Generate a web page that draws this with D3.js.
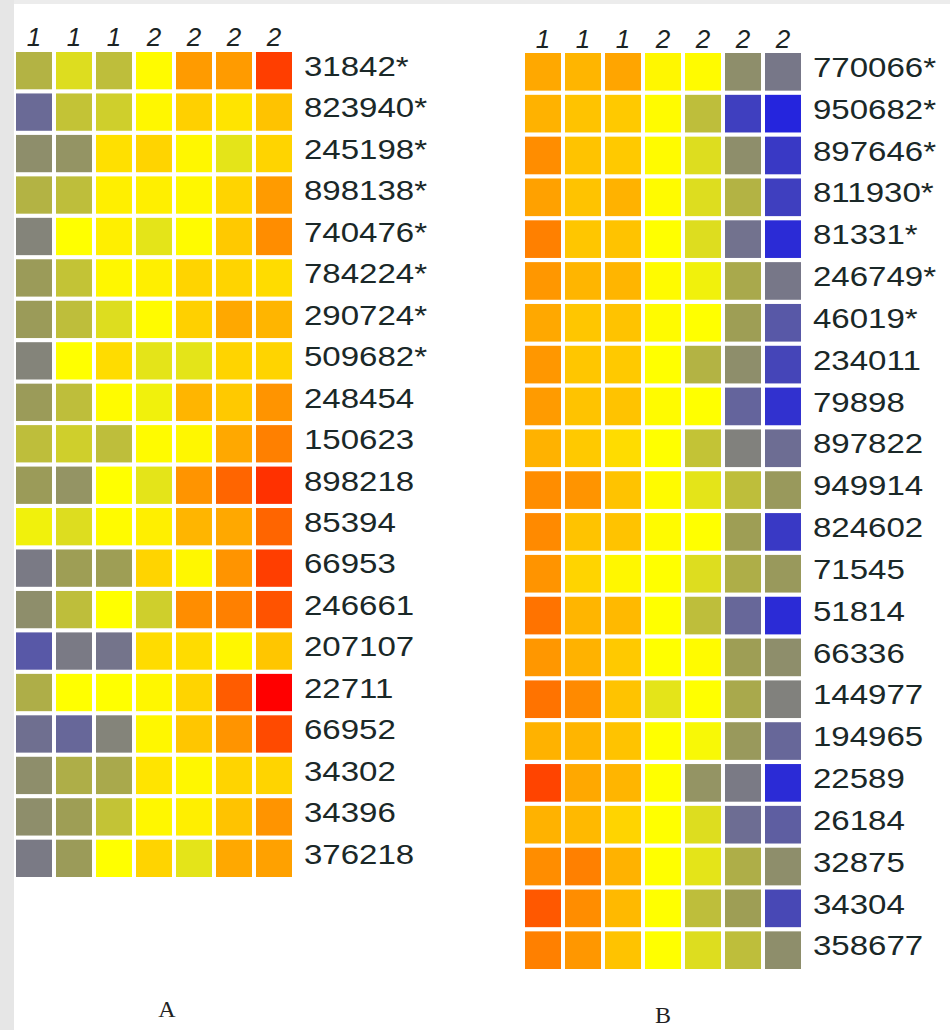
<!doctype html>
<html lang="en">
    <head>
        <meta charset="utf-8">
        <title>Heatmaps A and B</title>
        <script type="text/javascript" src="https://cdn.jsdelivr.net/npm/d3@7"></script>
        <style>
            body { margin: 0; background: #ffffff; }
            svg { display: block; }
        </style>
    </head>
    <body>
        <script type="text/javascript">

            var svgW = 950;
            var svgH = 1030;

            // group labels over the columns (same in both panels)
            var colLabels = ["1", "1", "1", "2", "2", "2", "2"];

            // panel A
            var rowsA = ["31842*", "823940*", "245198*", "898138*", "740476*", "784224*", "290724*",
                         "509682*", "248454", "150623", "898218", "85394", "66953", "246661",
                         "207107", "22711", "66952", "34302", "34396", "376218"];
            var valuesA = [
                [-0.6, -0.25, -0.5, 0.05, 1.4, 1.4, 2.5],
                [-1.8, -0.45, -0.35, 0.1, 0.6, 0.35, 0.8],
                [-1.1, -1.0, 0.4, 0.55, 0.1, -0.2, 0.55],
                [-0.6, -0.5, 0.2, 0.2, 0.1, 0.55, 1.4],
                [-1.3, 0, 0.2, -0.2, 0.05, 0.7, 1.6],
                [-0.85, -0.45, 0.1, 0.2, 0.55, 0.55, 0.45],
                [-0.85, -0.5, -0.25, 0.05, 0.6, 1.2, 1.0],
                [-1.3, 0, 0.45, -0.2, -0.2, 0.55, 0.55],
                [-0.85, -0.5, 0.05, -0.1, 1.0, 0.7, 1.5],
                [-0.5, -0.35, -0.5, 0.05, 0.1, 1.2, 1.8],
                [-0.85, -1.0, 0, -0.2, 1.5, 2.1, 2.6],
                [-0.1, -0.25, 0.05, 0.2, 1.0, 1.2, 2.1],
                [-1.5, -0.8, -0.8, 0.55, 0.1, 1.5, 2.5],
                [-1.1, -0.5, 0, -0.35, 1.6, 1.8, 2.3],
                [-2.1, -1.5, -1.6, 0.45, 0.45, 0.1, 0.75],
                [-0.65, 0, 0, 0.1, 0.55, 2.2, 3.0],
                [-1.7, -1.85, -1.3, 0.1, 0.75, 1.5, 2.4],
                [-1.1, -0.65, -0.7, 0.35, 0.1, 0.55, 0.55],
                [-1.1, -0.8, -0.45, 0.1, 0.2, 0.8, 1.5],
                [-1.5, -0.85, 0, 0.55, -0.2, 1.2, 1.3]
            ];

            // panel B
            var rowsB = ["770066*", "950682*", "897646*", "811930*", "81331*", "246749*", "46019*",
                         "234011", "79898", "897822", "949914", "824602", "71545", "51814",
                         "66336", "144977", "194965", "22589", "26184", "32875", "34304", "358677"];
            var valuesB = [
                [1.2, 1.0, 1.25, 0.1, 0.05, -1.1, -1.55],
                [1.05, 0.8, 0.7, 0.05, -0.5, -2.5, -2.95],
                [1.6, 0.8, 0.7, 0.05, -0.25, -1.1, -2.6],
                [1.3, 0.8, 1.05, 0.05, -0.25, -0.6, -2.5],
                [1.8, 0.75, 0.8, 0, -0.25, -1.65, -2.85],
                [1.45, 1.0, 1.0, 0.05, -0.1, -0.7, -1.55],
                [1.2, 0.75, 0.8, 0.05, 0, -0.8, -2.1],
                [1.45, 0.75, 0.7, 0, -0.6, -1.1, -2.4],
                [1.4, 0.8, 0.8, 0.05, 0, -1.9, -2.75],
                [1.05, 0.7, 0.45, 0, -0.45, -1.35, -1.75],
                [1.6, 1.5, 0.8, 0.05, -0.2, -0.5, -0.9],
                [1.65, 0.8, 0.8, 0.05, 0, -0.8, -2.6],
                [1.5, 0.55, 0.1, 0, -0.25, -0.65, -0.9],
                [1.95, 1.0, 0.95, 0, -0.5, -1.85, -2.85],
                [1.45, 1.05, 0.7, 0, 0.05, -0.8, -1.1],
                [1.95, 1.65, 0.8, -0.2, 0, -0.7, -1.35],
                [1.05, 1.0, 0.8, 0, -0.05, -0.9, -1.85],
                [2.45, 1.2, 1.0, 0, -1.0, -1.5, -2.85],
                [1.05, 0.95, 0.55, 0, -0.25, -1.75, -2.0],
                [1.6, 1.8, 1.05, 0, -0.2, -0.65, -1.1],
                [2.25, 1.6, 0.95, 0, -0.5, -0.8, -2.35],
                [1.8, 1.45, 0.8, 0, -0.25, -0.5, -1.1]
            ];

            var panelNames = ["A", "B"];

            // blue (low) -> grey/olive -> yellow -> orange -> red (high)
            var colorScale = d3.scaleLinear()
                               .domain([-3, -2.4, -1.8, -1.3, -0.8, -0.4, 0, 0.6, 1.2, 1.8, 2.4, 3])
                               .range(["#2222e0", "#4545b8", "#6a6a96", "#84847a", "#9e9e55", "#c8c832",
                                       "#ffff00", "#ffd000", "#ffa800", "#ff8000", "#ff4a00", "#ff0000"])
                               .interpolate(d3.interpolateRgb)
                               .clamp(true);

            var svg = d3.select("body")
                        .append("svg")
                        .attr("width", svgW)
                        .attr("height", svgH);

            // faint slide background
            svg.append("rect")
               .attr("x", 0).attr("y", 0)
               .attr("width", svgW).attr("height", 4)
               .attr("fill", "#ececec");
            svg.append("rect")
               .attr("x", 0).attr("y", 0)
               .attr("width", 14).attr("height", svgH)
               .attr("fill", "#e6e6e6");

            var panels = [
                {name: panelNames[0], rows: rowsA, values: valuesA, x: [16, 292], y: [52, 877],
                 headY: 46, nameX: 167, nameY: 1017},
                {name: panelNames[1], rows: rowsB, values: valuesB, x: [525, 801], y: [53, 969],
                 headY: 48, nameX: 663, nameY: 1023}
            ];

            panels.forEach(function(p) {
                var xScale = d3.scaleBand()
                               .domain(d3.range(colLabels.length))
                               .range(p.x)
                               .paddingInner(0.1);
                var yScale = d3.scaleBand()
                               .domain(d3.range(p.rows.length))
                               .range(p.y)
                               .paddingInner(0.1);

                var g = svg.append("g");

                var cells = [];
                p.values.forEach(function(row, r) {
                    row.forEach(function(v, c) { cells.push({r: r, c: c, v: v}); });
                });

                g.selectAll("rect.cell")
                 .data(cells)
                 .enter()
                 .append("rect")
                 .attr("class", "cell")
                 .attr("x", d => xScale(d.c))
                 .attr("y", d => yScale(d.r))
                 .attr("width", xScale.bandwidth())
                 .attr("height", yScale.bandwidth())
                 .attr("fill", d => colorScale(d.v));

                g.selectAll("text.head")
                 .data(colLabels)
                 .enter()
                 .append("text")
                 .attr("class", "head")
                 .attr("x", (_, i) => xScale(i) + xScale.bandwidth() / 2)
                 .attr("y", p.headY)
                 .attr("text-anchor", "middle")
                 .attr("font-family", "Liberation Sans, Arial, sans-serif")
                 .attr("font-style", "italic")
                 .attr("font-size", "26px")
                 .attr("fill", "#1c2424")
                 .text(d => d);

                var labelX = p.x[1] + 12;
                g.selectAll("text.row")
                 .data(p.rows)
                 .enter()
                 .append("text")
                 .attr("class", "row")
                 .attr("transform", (_, i) => "translate(" + labelX + "," + (yScale(i) + 24) + ") scale(1.18,1)")
                 .attr("font-family", "Liberation Sans, Arial, sans-serif")
                 .attr("font-size", "28px")
                 .attr("fill", "#1a2828")
                 .text(d => d);

                g.append("text")
                 .attr("x", p.nameX)
                 .attr("y", p.nameY)
                 .attr("text-anchor", "middle")
                 .attr("font-family", "Liberation Serif, Times New Roman, serif")
                 .attr("font-size", "24px")
                 .attr("fill", "#222222")
                 .text(p.name);
            });

        </script>
    </body>
</html>
